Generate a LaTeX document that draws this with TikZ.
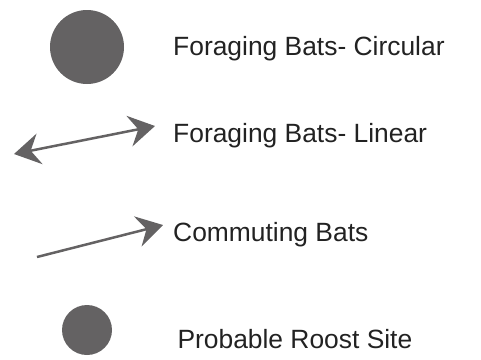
\documentclass[tikz,border=0pt]{standalone}
\usepackage{fontspec}
\setmainfont{Liberation Sans}
\usetikzlibrary{arrows.meta}
\definecolor{batgrey}{HTML}{646263}
\definecolor{txt}{HTML}{222222}
\begin{document}
\begin{tikzpicture}[x=1pt,y=-1pt,
  label/.style={anchor=base west,inner sep=0pt,text=txt,font=\fontsize{26.4}{30}\selectfont},
  dot/.style={circle,fill=batgrey,draw=none,inner sep=0pt},
  batarrow/.style={draw=batgrey,line width=2.5pt,
    arrows={-Stealth[length=26pt,width=31pt,inset=9pt]}},
  batarrows/.style={draw=batgrey,line width=2.5pt,
    arrows={Stealth[length=26pt,width=31pt,inset=9pt]-Stealth[length=26pt,width=31pt,inset=9pt]}}]
\useasboundingbox (0,0) rectangle (481,359);
\node[dot,minimum size=74pt] (circ) at (87,47) {};
\node[dot,minimum size=50pt] (roost) at (87,330) {};
\coordinate (la) at (14,154);
\coordinate (lb) at (155,126);
\draw[batarrows] (la) -- (lb);
\coordinate (ca) at (37,257);
\coordinate (cb) at (163,225);
\draw[batarrow] (ca) -- (cb);
\node[label] (t1) at (173,55) {Foraging Bats- Circular};
\node[label] (t2) at (173,142.7) {Foraging Bats- Linear};
\node[label] (t3) at (173,241.7) {Commuting Bats};
\node[label] (t4) at (177.3,348) {Probable Roost Site};
\end{tikzpicture}
\end{document}
